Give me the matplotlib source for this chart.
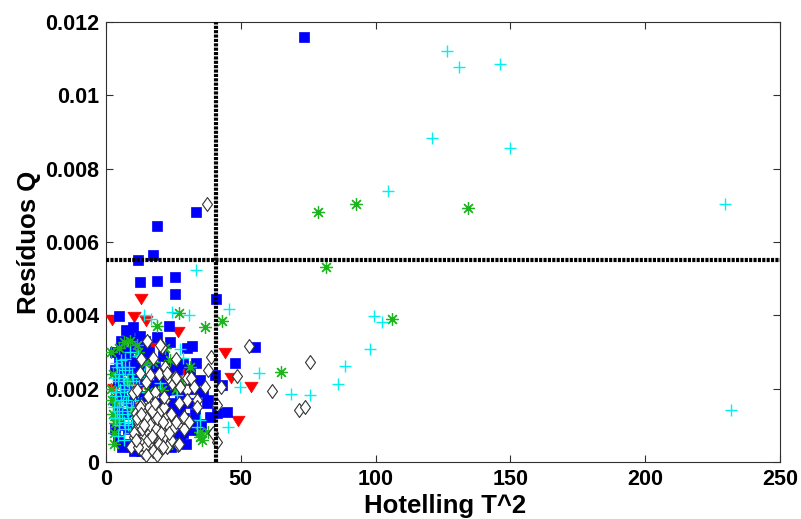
import matplotlib
matplotlib.use("Agg")
import matplotlib.pyplot as plt
from matplotlib.path import Path

# ---------------- data ----------------
blue_x = [73.4, 33.3, 19.0, 17.6, 12.0, 12.6, 19.0, 25.5, 25.5, 40.7, 4.8, 23.4, 10.1, 55.3, 48.0,
          40.4, 42.9, 45.0, 41.0, 38.0, 35.1, 32.0, 29.9, 34.9, 19.0, 23.7, 20.0, 26.3, 23.7, 27.4,
          28.6, 35.0, 22.6, 37.5, 38.6, 32.0, 27.4, 7.4, 12.5, 14.5, 7.0,
          5.0, 8.0, 10.5, 6.0, 9.0, 11.5, 4.5, 7.5, 10.0, 5.5, 8.5, 11.0, 4.5, 7.0, 10.0, 5.0, 8.0,
          11.0, 4.5, 7.0, 9.5, 12.5, 13.5, 14.0,
          16.0, 18.0, 21.0, 17.0, 22.0, 19.0, 24.0, 16.5, 21.0, 25.0, 18.0, 20.0, 24.0, 29.0, 31.0,
          29.0, 30.5,
          3.5, 5.5, 8.5, 11.5, 13.0, 3.5, 12.5, 3.2, 13.0, 3.5, 6.0, 10.5, 13.0, 14.5, 12.0,
          19.5, 21.5, 25.5, 27.5, 32.5, 33.0, 31.0, 26.0, 24.5, 28.5, 33.5, 36.0, 22.0, 29.5, 25.0]
blue_y = [0.01159, 0.00681, 0.00644, 0.00565, 0.00552, 0.00490, 0.00494, 0.00505, 0.00457, 0.00444,
          0.00399, 0.00371, 0.00369, 0.00313, 0.00269, 0.00237, 0.00210, 0.00136, 0.00133, 0.00169,
          0.00103, 0.00316, 0.00310, 0.00224, 0.00340, 0.00328, 0.00246, 0.00251, 0.00196, 0.00142,
          0.00079, 0.00096, 0.00060, 0.00160, 0.00123, 0.00087, 0.00068, 0.00360, 0.00345, 0.00330,
          0.00300,
          0.0028, 0.0029, 0.0031, 0.0025, 0.0026, 0.0027, 0.0022, 0.0021, 0.0023, 0.0018, 0.0017,
          0.0019, 0.0014, 0.0013, 0.0014, 0.0010, 0.0009, 0.0010, 0.0006, 0.0005, 0.0004, 0.0006,
          0.0022, 0.0028,
          0.0030, 0.0026, 0.0029, 0.0021, 0.0022, 0.0016, 0.0016, 0.0011, 0.0011, 0.0012, 0.0006,
          0.0004, 0.0004, 0.0020, 0.0024, 0.0012, 0.0016,
          0.0030, 0.0033, 0.0034, 0.0033, 0.0031, 0.0025, 0.0025, 0.0017, 0.0018, 0.0009, 0.0004,
          0.0003, 0.0003, 0.0014, 0.0012,
          0.0022, 0.0019, 0.0021, 0.0018, 0.0020, 0.0013, 0.0010, 0.0015, 0.0026, 0.0027, 0.0027,
          0.0019, 0.0014, 0.0005, 0.0007]

red_x = [2.2, 10.4, 14.8, 12.9, 26.8, 44.1, 46.2, 53.8, 49.1, 3.0, 8.5, 16.3, 29.3, 26.3, 6.7,
         10.0, 20.0, 12.0, 25.6]
red_y = [0.00387, 0.00395, 0.00385, 0.00444, 0.00355, 0.00296, 0.00229, 0.00205, 0.00111, 0.00200,
         0.00273, 0.00314, 0.00246, 0.00194, 0.00278, 0.00150, 0.00120, 0.00200, 0.00220]

green_x = [78.8, 92.8, 134.4, 81.6, 106.0, 64.9, 42.9, 36.8, 27.2,
           6.7, 1.9, 3.7, 11.5, 23.7, 31.1, 17.4, 20.8, 26.0, 35.0, 24.5, 3.3, 34.9, 38.0, 35.5,
           2.5, 4.0, 8.0, 12.0, 14.0, 3.0, 9.5, 15.5,
           2.0, 2.5, 3.0, 2.2, 5.0, 9.0, 14.5, 19.0, 28.0, 22.0]
green_y = [0.00683, 0.00704, 0.00694, 0.00533, 0.00389, 0.00245, 0.00384, 0.00368, 0.00407,
           0.00327, 0.00200, 0.00115, 0.00319, 0.00278, 0.00258, 0.00273, 0.00196, 0.00200, 0.00082,
           0.00052, 0.00106, 0.00068, 0.00082, 0.00060,
           0.00240, 0.00160, 0.00220, 0.00300, 0.00110, 0.00080, 0.00140, 0.00190,
           0.00300, 0.00130, 0.00050, 0.00170, 0.00310, 0.00330, 0.00270, 0.00370, 0.00220, 0.00310]

cyan_x = [126.4, 131.0, 146.3, 121.0, 150.0, 229.7, 231.7, 104.5, 99.5, 102.4, 98.0, 88.8, 86.2,
          68.5, 75.5, 56.8, 49.7, 45.4, 45.6, 33.4, 24.4, 30.9, 16.6, 27.4, 28.6, 20.0, 26.3, 35.0,
          33.7, 14.0,
          5.6, 4.0, 7.0, 9.5, 4.5, 6.5, 8.5, 11.0, 3.5, 5.5, 7.5, 10.0, 4.0, 6.0, 8.0, 10.5, 5.0,
          7.0, 9.0, 4.5, 6.5, 12.0, 13.0, 14.0, 9.0, 12.0,
          3.5, 5.0, 6.5, 8.0, 9.5, 11.0, 3.0, 4.8, 6.2, 7.8, 9.2, 11.5, 3.8, 5.2, 6.8, 8.2, 9.8,
          12.0, 3.2, 4.9, 6.4, 7.9, 10.2, 12.4, 5.8, 8.6, 3.6, 7.2]
cyan_y = [0.01121, 0.01077, 0.01086, 0.00883, 0.00857, 0.00704, 0.00142, 0.00740, 0.00398, 0.00383,
          0.00308, 0.00262, 0.00213, 0.00186, 0.00184, 0.00243, 0.00204, 0.00096, 0.00418, 0.00524,
          0.00408, 0.00400, 0.00390, 0.00308, 0.00284, 0.00215, 0.00183, 0.00115, 0.00096, 0.00400,
          0.00278, 0.0026, 0.0025, 0.0024, 0.0022, 0.0021, 0.0020, 0.0021, 0.0018, 0.0017, 0.0016,
          0.0017, 0.0014, 0.0013, 0.0012, 0.0013, 0.0010, 0.0009, 0.0008, 0.0007, 0.0006, 0.0009,
          0.0016, 0.0024, 0.0030, 0.0029,
          0.0012, 0.0012, 0.0011, 0.0010, 0.0011, 0.0011, 0.0015, 0.0015, 0.0016, 0.0014, 0.0015,
          0.0015, 0.0019, 0.0020, 0.0019, 0.0018, 0.0019, 0.0019, 0.0023, 0.0024, 0.0023, 0.0022,
          0.0022, 0.0023, 0.0026, 0.0026, 0.0027, 0.0028]

diam_x = [37.6, 52.9, 38.9, 37.9, 48.5, 42.7, 61.7, 75.6, 71.5, 73.7, 39.8, 41.0, 41.0, 36.7, 33.7,
          30.0, 30.0, 24.5, 27.4, 21.9, 30.0, 33.7, 28.6, 26.7, 20.8, 17.4, 15.2, 16.3, 12.6, 10.0,
          23.0, 25.6, 11.5, 14.8, 13.0, 11.1, 9.3, 10.4, 13.8, 17.5, 20.6, 11.5,
          14.0, 16.0, 18.0, 20.0, 22.0, 24.0, 15.0, 17.0, 19.0, 21.0, 23.0, 25.0, 14.0, 16.0, 18.0,
          20.0, 22.0, 24.0, 16.0, 19.0, 12.0, 13.0, 15.5, 18.0, 19.5, 22.0, 26.0, 13.0,
          27.0, 26.0, 29.0,
          10.5, 11.5, 12.5, 13.5, 14.5, 15.0, 15.5, 16.5, 17.0, 17.5, 18.5, 19.0, 19.5, 20.5, 21.0,
          21.5, 22.5, 12.0, 13.0, 14.0, 18.0, 11.0, 23.5, 15.0, 17.0, 19.0, 21.0,
          26.0, 31.5, 32.6, 29.0, 30.8, 27.0, 22.6, 20.0, 21.5]
diam_y = [0.00703, 0.00316, 0.00287, 0.00251, 0.00234, 0.00205, 0.00195, 0.00272, 0.00141, 0.00151,
          0.00078, 0.00055, 0.00155, 0.00205, 0.00169, 0.00196, 0.00229, 0.00215, 0.00205, 0.00169,
          0.00169, 0.00150, 0.00120, 0.00046, 0.00314, 0.00284, 0.00330, 0.00237, 0.00243, 0.00188,
          0.00232, 0.00232, 0.00196, 0.00218, 0.00155, 0.00134, 0.00041, 0.00068, 0.00027, 0.00033,
          0.00038, 0.00093,
          0.0013, 0.0015, 0.0013, 0.0014, 0.0012, 0.0013, 0.0010, 0.0011, 0.0010, 0.0009, 0.0010,
          0.0009, 0.0007, 0.0008, 0.0007, 0.0006, 0.0007, 0.0006, 0.0005, 0.0004, 0.0011, 0.0005,
          0.0018, 0.0019, 0.0024, 0.0026, 0.0028, 0.0028, 0.0016, 0.0011, 0.0009,
          0.0008, 0.0012, 0.0015, 0.0009, 0.0004, 0.0012, 0.0006, 0.0010, 0.0014, 0.0003, 0.0009,
          0.0012, 0.0005, 0.0008, 0.0011, 0.0015, 0.0004, 0.0004, 0.0013, 0.0010, 0.0016,
          0.0006, 0.0008, 0.0002, 0.0007, 0.0002, 0.0004,
          0.0023, 0.0023, 0.00205, 0.00123, 0.0011, 0.0005, 0.00243, 0.0032, 0.00177]

t2_limit = 40.8
q_limit = 0.0055

x_ticks = [0, 50, 100, 150, 200, 250]
y_ticks = [0, 0.002, 0.004, 0.006, 0.008, 0.01, 0.012]
y_tick_labels = ['0', '0.002', '0.004', '0.006', '0.008', '0.01', '0.012']
x_label = 'Hotelling T^2'
y_label = 'Resíduos Q'

# ---------------- figure ----------------
plt.rcParams['font.family'] = ['Liberation Sans', 'DejaVu Sans']
plt.rcParams['font.weight'] = 'bold'

fig = plt.figure(figsize=(8.01, 5.19), dpi=100)
ax = fig.add_axes([106 / 801, 57 / 519, 674 / 801, 440 / 519])

diamond_marker = Path([(0, 1), (0.72, 0), (0, -1), (-0.72, 0), (0, 1)],
                      [Path.MOVETO, Path.LINETO, Path.LINETO, Path.LINETO, Path.CLOSEPOLY])
tri_marker = Path([(-1, 0.8), (1, 0.8), (0, -0.8), (-1, 0.8)],
                  [Path.MOVETO, Path.LINETO, Path.LINETO, Path.CLOSEPOLY])

ax.plot(red_x, red_y, linestyle='none', marker=tri_marker, markersize=9.5,
        markerfacecolor='#ff0000', markeredgecolor='#ff0000', markeredgewidth=0.5, zorder=3)
ax.plot(blue_x, blue_y, linestyle='none', marker='s', markersize=6.8,
        markerfacecolor='#0000ff', markeredgecolor='#0000ff', markeredgewidth=0.5, zorder=4)
ax.plot(green_x, green_y, linestyle='none', marker=(8, 2, 0), markersize=9,
        markeredgecolor='#1db51d', markeredgewidth=0.9, zorder=5)
ax.plot(cyan_x, cyan_y, linestyle='none', marker='+', markersize=9,
        markeredgecolor='#00f0f0', markeredgewidth=1.0, zorder=6)
ax.plot(diam_x, diam_y, linestyle='none', marker=diamond_marker, markersize=10,
        markerfacecolor='white', markeredgecolor='#333333', markeredgewidth=0.8, zorder=7)

ax.axvline(t2_limit, color='black', linewidth=3, linestyle=(0, (0.75, 0.3)), zorder=8)
ax.axhline(q_limit, color='black', linewidth=3, linestyle=(0, (0.75, 0.3)), zorder=8)

ax.set_xlim(0, 250)
ax.set_ylim(0, 0.012)
ax.set_xticks(x_ticks)
ax.set_xticklabels([str(t) for t in x_ticks])
ax.set_yticks(y_ticks)
ax.set_yticklabels(y_tick_labels)
ax.tick_params(direction='in', length=5, width=0.8, top=True, right=True,
               labelsize=15.5, colors='#303030', labelcolor='black', pad=5)
for lab in ax.get_xticklabels() + ax.get_yticklabels():
    lab.set_fontweight('bold')
for s in ax.spines.values():
    s.set_linewidth(0.8)
    s.set_color('#303030')

ax.set_xlabel(x_label, fontsize=18.5, fontweight='bold', va='top')
ax.set_ylabel(y_label, fontsize=18.5, fontweight='bold')
ax.xaxis.set_label_coords(0.503, -0.073)
ax.yaxis.set_label_coords(-0.097, 0.5)

fig.savefig('out.png', dpi=100)
